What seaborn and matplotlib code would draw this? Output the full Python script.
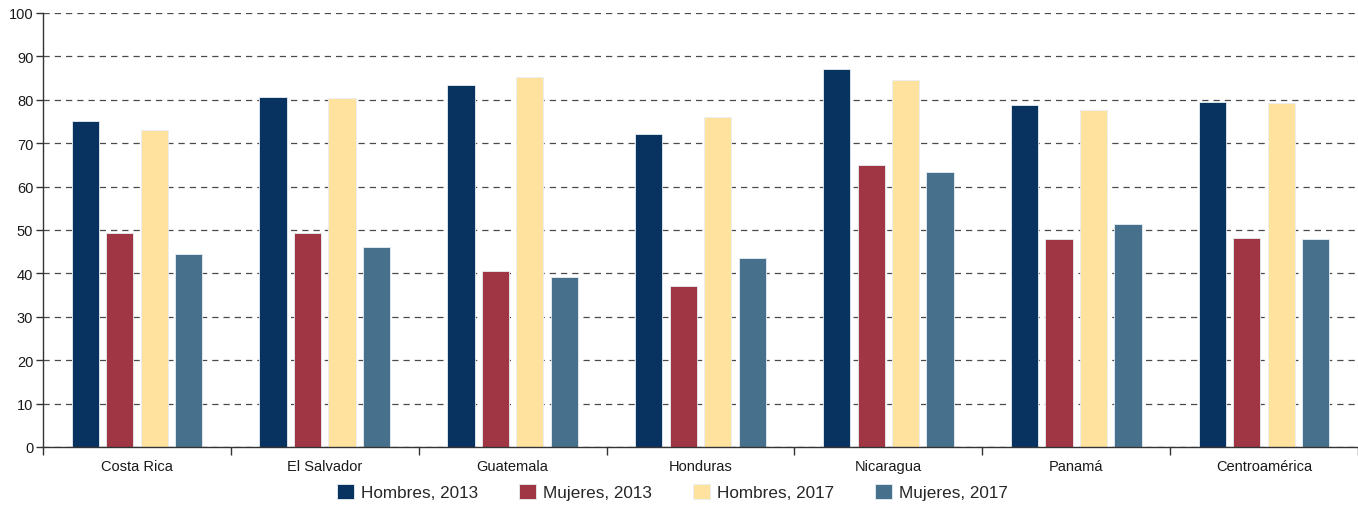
import numpy as np
import pandas as pd
import matplotlib
matplotlib.use("Agg")
import matplotlib.pyplot as plt
import seaborn as sns
from matplotlib.ticker import FixedLocator, MultipleLocator

categories = ["Costa Rica", "El Salvador", "Guatemala", "Honduras", "Nicaragua", "Panamá", "Centroamérica"]
series_names = ["Hombres, 2013", "Mujeres, 2013", "Hombres, 2017", "Mujeres, 2017"]
hombres_2013 = [75.1, 80.6, 83.4, 72.1, 87.1, 78.8, 79.6]
mujeres_2013 = [49.3, 49.3, 40.5, 37.1, 65.0, 47.9, 48.1]
hombres_2017 = [73.0, 80.4, 85.2, 76.0, 84.6, 77.6, 79.3]
mujeres_2017 = [44.5, 46.1, 39.2, 43.5, 63.4, 51.4, 47.9]
colors = ["#083361", "#A03643", "#FFE29E", "#47708D"]

rows = []
for name, vals in zip(series_names, [hombres_2013, mujeres_2013, hombres_2017, mujeres_2017]):
    for c, v in zip(categories, vals):
        rows.append({"pais": c, "serie": name, "valor": v})
df = pd.DataFrame(rows)

sns.set_theme(style="white")
plt.rcParams["font.family"] = ["Liberation Sans", "DejaVu Sans"]

fig = plt.figure(figsize=(13.58, 5.06), dpi=100)
ax = fig.add_axes([43 / 1358, 1 - 448 / 506, 1 - 43 / 1358, (448 - 14) / 506])

sns.barplot(data=df, x="pais", y="valor", hue="serie", order=categories,
            hue_order=series_names, palette=colors, saturation=1, width=0.734, gap=0.21,
            edgecolor="#E8EEF3", linewidth=0.6, ax=ax, legend=True, errorbar=None)

ax.set_xlim(-0.5, len(categories) - 0.5)
ax.set_ylim(0, 100)
ax.yaxis.set_major_locator(MultipleLocator(10))
ax.set_axisbelow(True)
ax.yaxis.grid(True, color="#4a4a4a", linestyle=(0, (5, 4)), linewidth=0.9)
ax.xaxis.grid(False)
for s in ["top", "right"]:
    ax.spines[s].set_visible(False)
for s in ["left", "bottom"]:
    ax.spines[s].set_color("#333333")
    ax.spines[s].set_linewidth(1.0)
ax.set_xlabel("")
ax.set_ylabel("")

ax.tick_params(axis="y", which="major", left=True, direction="out", length=5, width=1,
               color="#333333", labelsize=10.5, labelcolor="#1a1a1a", pad=2)
ax.tick_params(axis="x", which="major", bottom=True, length=0, labelsize=10.5,
               labelcolor="#1a1a1a", pad=9)
ax.xaxis.set_minor_locator(FixedLocator(np.arange(-0.5, len(categories), 1.0)))
ax.tick_params(axis="x", which="minor", bottom=True, direction="out", length=6, width=1,
               color="#333333")

leg = ax.get_legend()
handles = leg.legend_handles
labels = [t.get_text() for t in leg.get_texts()]
leg.remove()
fig.legend(handles, labels, loc="center", bbox_to_anchor=(0.495, 0.026), ncol=4,
           frameon=False, fontsize=12.3, handlelength=1.0, handleheight=1.0,
           handletextpad=0.4, columnspacing=2.4)

fig.savefig("out.png", dpi=100)
